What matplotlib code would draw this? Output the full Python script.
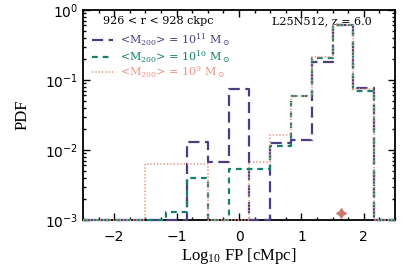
import numpy as np
import matplotlib
matplotlib.use('Agg')
import matplotlib.pyplot as plt
from matplotlib.ticker import MultipleLocator, LogLocator, NullFormatter

plt.rcParams['mathtext.default']='regular'
plt.rcParams['mathtext.fontset']='dejavusans'

# histogram bins (log10 FP, cMpc) and PDF values per mass bin
edges=np.linspace(-2.5,2.5,16)
pdf_m11=[0,0,0,0,0,0.0129,0.0067,0.074,0,0.0127,0.0140,0.180,0.61,0.078,0]
pdf_m10=[0,0,0,0,0.0013,0.0040,0,0.0053,0.0053,0.0115,0.059,0.208,0.61,0.070,0]
pdf_m9=[0,0,0,0.0063,0.0063,0.0063,0,0,0.0067,0.0164,0.059,0.21,0.61,0.075,0]
star_x=[1.63]; star_y=[0.00125]

C11='#4e3c80'; C10='#12806a'; C9='#ec9484'; CS='#c97a6c'
SERIF=['DejaVu Serif']
YMIN=1e-3

fig=plt.figure(figsize=(4.15,2.77),dpi=100)
ax=fig.add_axes([0.200,0.206,0.752,0.758])

def hist(vals,color,ls,lw,z):
    v=np.array(vals,float); v=np.where(v>0,v,YMIN)
    ax.step(edges,np.append(v,v[-1]),where='post',color=color,ls=ls,lw=lw,zorder=z,clip_on=False)
    ax.plot([edges[0],edges[0]],[YMIN,v[0]],color=color,ls=ls,lw=lw,zorder=z)

hist(pdf_m11,C11,(0,(5,2.5)),1.6,3)
hist(pdf_m10,C10,(0,(2.6,2.2)),1.6,4)
hist(pdf_m9,C9,(0,(0.8,1.2)),1.2,5)
ax.plot(star_x,star_y,marker=(4,1,0),ms=7,color=CS,ls='none',zorder=6)

ax.set_yscale('log')
ax.set_xlim(-2.5,2.5); ax.set_ylim(YMIN,1.0)
ax.xaxis.set_major_locator(MultipleLocator(1)); ax.xaxis.set_minor_locator(MultipleLocator(0.25))
ax.yaxis.set_major_locator(LogLocator(base=10,numticks=10))
ax.yaxis.set_minor_locator(LogLocator(base=10,subs=np.arange(2,10),numticks=10))
ax.yaxis.set_minor_formatter(NullFormatter())
ax.tick_params(which='both',direction='in',top=True,right=True,width=1.0,labelsize=10)
ax.tick_params(which='major',length=5); ax.tick_params(which='minor',length=2.5)
ax.tick_params(axis='x',pad=7)
for s in ax.spines.values(): s.set_linewidth(1.3)

ax.set_xlabel('Log$_{10}$ FP [cMpc]',family=['Liberation Serif'],fontsize=12,labelpad=2)
ax.set_ylabel('PDF',family=['Liberation Serif'],fontsize=12,labelpad=10)

ax.text(0.064,0.948,'926 < r < 928 ckpc',transform=ax.transAxes,family=SERIF,fontsize=8,va='center')
ax.text(0.926,0.948,'L25N512, z = 6.0',transform=ax.transAxes,family=SERIF,fontsize=8,va='center',ha='right')

# legend drawn by hand (IDL-style)
leg=[(C11,(0,(5,2.5)),1.6,'11',0.857),(C10,(0,(2.6,2.2)),1.6,'10',0.778),(C9,(0,(0.8,1.2)),1.2,'9',0.705)]
for c,ls,lw,ex,yy in leg:
    ax.plot([0.029,0.097],[yy,yy],transform=ax.transAxes,color=c,ls=ls,lw=lw)
    ax.text(0.119,yy,'<M$_{200}$> = 10$^{%s}$ M$_\\odot$'%ex,transform=ax.transAxes,
            family=SERIF,fontsize=8,color=c,va='center')

fig.savefig('out.png',dpi=100)
